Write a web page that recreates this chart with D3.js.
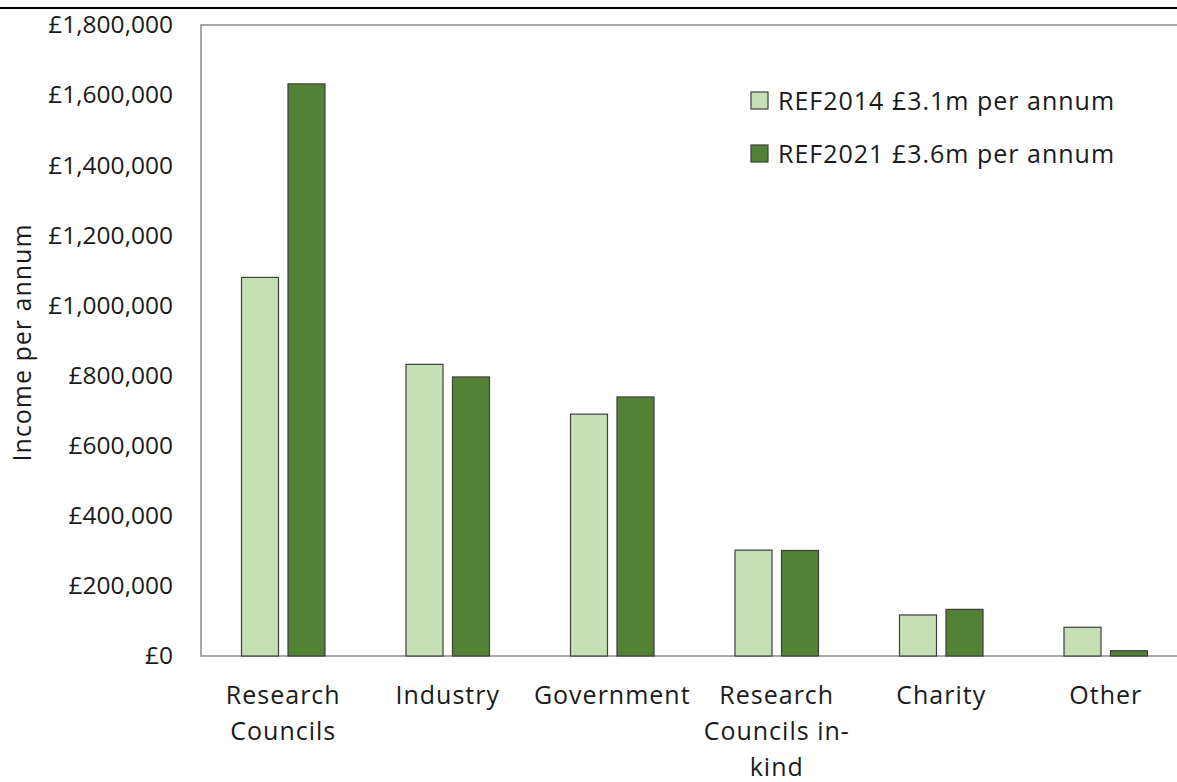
<!DOCTYPE html>
<html>
<head>
<meta charset="utf-8">
<script src="https://cdn.jsdelivr.net/npm/d3@7"></script>
<style>
  body { margin: 0; background: #fff; }
  text { font-family: "Open Sans", sans-serif; fill: #1a1a1a; }
</style>
</head>
<body>
<div id="chart"></div>
<script>
// Data
let categories = ["Research Councils", "Industry", "Government", "Research Councils in-kind", "Charity", "Other"];
let catLines = [["Research", "Councils"], ["Industry"], ["Government"], ["Research", "Councils in-", "kind"], ["Charity"], ["Other"]];
let series = ["REF2014 £3.1m per annum", "REF2021 £3.6m per annum"];
let ref2014 = [1080000, 832000, 690000, 302000, 117000, 82000];
let ref2021 = [1632000, 796000, 739000, 301000, 133000, 15000];
let yTicks = [0, 200000, 400000, 600000, 800000, 1000000, 1200000, 1400000, 1600000, 1800000];
let colors = ["#c5e0b4", "#538135"];

// Layout
let svgWidth = 1177, svgHeight = 782;
let plot = { left: 201, top: 25, bottom: 656, step: 164.5 };
let fontFam = '"Open Sans", sans-serif';

let svg = d3.select('#chart')
            .append('svg')
            .attr('width', svgWidth)
            .attr('height', svgHeight);

// thin black rule across the top
svg.append('line')
    .attr('x1', 0).attr('x2', svgWidth)
    .attr('y1', 8).attr('y2', 8)
    .attr('stroke', '#000').attr('stroke-width', 2);

// Scales
let x0 = d3.scaleBand()
            .domain(categories)
            .range([plot.left, plot.left + plot.step * categories.length]);
let x1 = d3.scaleBand()
            .domain(series)
            .range([0, x0.bandwidth()])
            .paddingInner(0.204)
            .paddingOuter(0.871);
let yScale = d3.scaleLinear()
            .domain([0, 1800000])
            .range([plot.bottom, plot.top]);

// Plot frame (left, top, bottom)
svg.append('path')
    .attr('d', `M${svgWidth + 20},${plot.top}H${plot.left}V${plot.bottom}H${svgWidth + 20}`)
    .attr('fill', 'none')
    .attr('stroke', '#8c8c8c')
    .attr('stroke-width', 1.5);

// Y axis
let fmt = d3.format(",");
let yAxis = d3.axisLeft(yScale)
            .tickValues(yTicks)
            .tickSize(0)
            .tickPadding(28)
            .tickFormat(d => "£" + fmt(d));
let yG = svg.append('g')
            .attr('transform', `translate(${plot.left},0)`)
            .call(yAxis);
yG.select('.domain').remove();
yG.selectAll('text')
    .style('font-family', fontFam)
    .attr('font-size', 24.5)
    .attr('fill', '#1a1a1a');

svg.append('text')
    .attr('transform', `translate(31, ${(plot.top + plot.bottom) / 2 + 2}) rotate(-90)`)
    .attr('text-anchor', 'middle')
    .attr('font-size', 25)
    .attr('letter-spacing', 1)
    .text('Income per annum');

// X axis labels
let xAxis = d3.axisBottom(x0).tickSize(0).tickFormat('');
let xG = svg.append('g')
            .attr('transform', `translate(0,${plot.bottom})`)
            .call(xAxis);
xG.select('.domain').remove();
xG.selectAll('.tick').each(function(d, i) {
    let t = d3.select(this).append('text')
                .attr('text-anchor', 'middle')
                .attr('font-size', 25)
                .attr('letter-spacing', 1)
                .attr('fill', '#1a1a1a')
                .style('font-family', fontFam);
    catLines[i].forEach((ln, j) => {
        t.append('tspan')
            .attr('x', 0)
            .attr('y', 48 + j * 36)
            .text(ln);
    });
});

// Bars
let values = [ref2014, ref2021];
let groups = svg.append('g').selectAll('g')
            .data(categories)
            .enter()
            .append('g')
            .attr('transform', d => `translate(${x0(d)},0)`);

groups.selectAll('rect')
    .data((d, i) => series.map((s, k) => ({ s: s, v: values[k][i], k: k })))
    .enter()
    .append('rect')
    .attr('x', d => x1(d.s))
    .attr('y', d => yScale(d.v))
    .attr('width', x1.bandwidth())
    .attr('height', d => plot.bottom - yScale(d.v))
    .attr('fill', d => colors[d.k])
    .attr('stroke', '#3f3f3f')
    .attr('stroke-width', 1.2);

// Legend
let legend = svg.append('g').attr('transform', 'translate(751, 92)');
series.forEach((s, k) => {
    let row = legend.append('g').attr('transform', `translate(0, ${k * 53})`);
    row.append('rect')
        .attr('width', 17).attr('height', 17)
        .attr('fill', colors[k])
        .attr('stroke', '#3f3f3f')
        .attr('stroke-width', 1.2);
    row.append('text')
        .attr('x', 27)
        .attr('y', 9)
        .attr('dy', '0.36em')
        .attr('font-size', 25)
        .attr('letter-spacing', 1)
        .text(s);
});
</script>
</body>
</html>
